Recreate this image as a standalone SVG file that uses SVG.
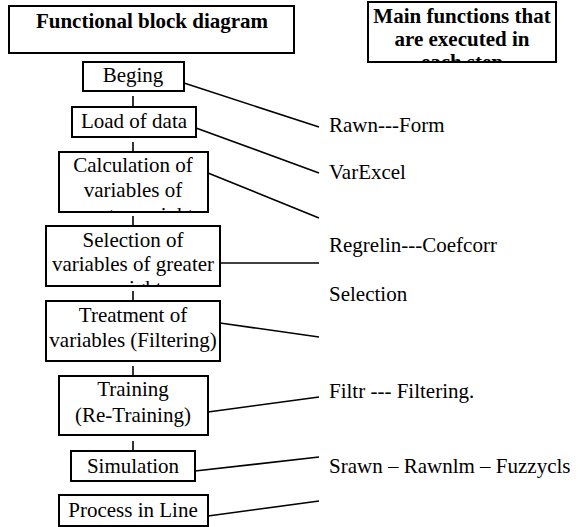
<svg xmlns="http://www.w3.org/2000/svg" width="579" height="527" viewBox="0 0 579 527">
<style>
.box{fill:#fff;stroke:#000;stroke-width:2}
.t{font-size:21px;fill:#000}
.c{text-anchor:middle}
.b{font-weight:bold}
.ln{stroke:#000;stroke-width:1.6;fill:none}
</style>
<defs>
<clipPath id="cpMain"><rect x="369" y="3" width="186" height="58"/></clipPath>
<clipPath id="cpCalc"><rect x="60" y="153" width="147" height="58"/></clipPath>
<clipPath id="cpSel"><rect x="47" y="227" width="172" height="58"/></clipPath>
</defs>
<rect width="579" height="527" fill="#fff"/>
<g id="connectors">
<line class="ln" x1="133" y1="96" x2="133" y2="112"/>
<line class="ln" x1="133" y1="142" x2="133" y2="157"/>
<line class="ln" x1="133" y1="216" x2="133" y2="230"/>
<line class="ln" x1="133" y1="291" x2="133" y2="306"/>
<line class="ln" x1="133" y1="366" x2="133" y2="380"/>
<line class="ln" x1="133" y1="441" x2="133" y2="455"/>
<line class="ln" x1="184" y1="83" x2="319" y2="127"/>
<line class="ln" x1="196" y1="128" x2="319" y2="173"/>
<line class="ln" x1="208" y1="173" x2="319" y2="218"/>
<line class="ln" x1="220" y1="263" x2="319" y2="263"/>
<line class="ln" x1="220" y1="323" x2="319" y2="337"/>
<line class="ln" x1="208" y1="412" x2="319" y2="397"/>
<line class="ln" x1="195" y1="471" x2="319" y2="457"/>
<line class="ln" x1="208" y1="516" x2="319" y2="501"/>
</g>
<g font-family="'Liberation Serif', 'Times New Roman', 'DejaVu Serif', serif">
<g id="title">
<rect class="box" x="9" y="6" width="285" height="47"/>
<text class="t c b" x="152" y="28">Functional block diagram</text>
</g>
<g id="main-functions">
<rect class="box" x="368" y="2" width="188" height="60"/>
<g clip-path="url(#cpMain)">
<text class="t c b" x="462" y="23">Main functions that</text>
<text class="t c b" x="462" y="46">are executed in</text>
<text class="t c b" x="462" y="69">each step</text>
</g>
</g>
<g id="beging">
<rect class="box" x="83" y="62" width="101" height="29"/>
<text class="t c" x="133" y="82">Beging</text>
</g>
<g id="load">
<rect class="box" x="72" y="107" width="124" height="30"/>
<text class="t c" x="134" y="128">Load of data</text>
</g>
<g id="calculation">
<rect class="box" x="59" y="152" width="149" height="60"/>
<g clip-path="url(#cpCalc)">
<text class="t c" x="133" y="172">Calculation of</text>
<text class="t c" x="133" y="197">variables of</text>
<text class="t c" x="133" y="222">greater weight</text>
</g>
</g>
<g id="selection">
<rect class="box" x="46" y="226" width="174" height="60"/>
<g clip-path="url(#cpSel)">
<text class="t c" x="133" y="247">Selection of</text>
<text class="t c" x="133" y="271">variables of greater</text>
<text class="t c" x="133" y="295">weight</text>
</g>
</g>
<g id="treatment">
<rect class="box" x="46" y="301" width="174" height="60"/>
<text class="t c" x="133" y="322">Treatment of</text>
<text class="t c" x="133" y="347">variables (Filtering)</text>
</g>
<g id="training">
<rect class="box" x="59" y="376" width="149" height="59"/>
<text class="t c" x="133" y="396">Training</text>
<text class="t c" x="133" y="422">(Re-Training)</text>
</g>
<g id="simulation">
<rect class="box" x="71" y="451" width="124" height="30"/>
<text class="t c" x="133" y="473">Simulation</text>
</g>
<g id="process">
<rect class="box" x="59" y="495" width="149" height="31"/>
<text class="t c" x="133" y="517">Process in Line</text>
</g>
<g id="labels">
<text class="t" x="329" y="132">Rawn---Form</text>
<text class="t" x="329" y="179">VarExcel</text>
<text class="t" x="329" y="252">Regrelin---Coefcorr</text>
<text class="t" x="329" y="301">Selection</text>
<text class="t" x="329" y="398">Filtr --- Filtering.</text>
<text class="t" x="329" y="473">Srawn – Rawnlm – Fuzzycls</text>
</g>
</g>
</svg>
